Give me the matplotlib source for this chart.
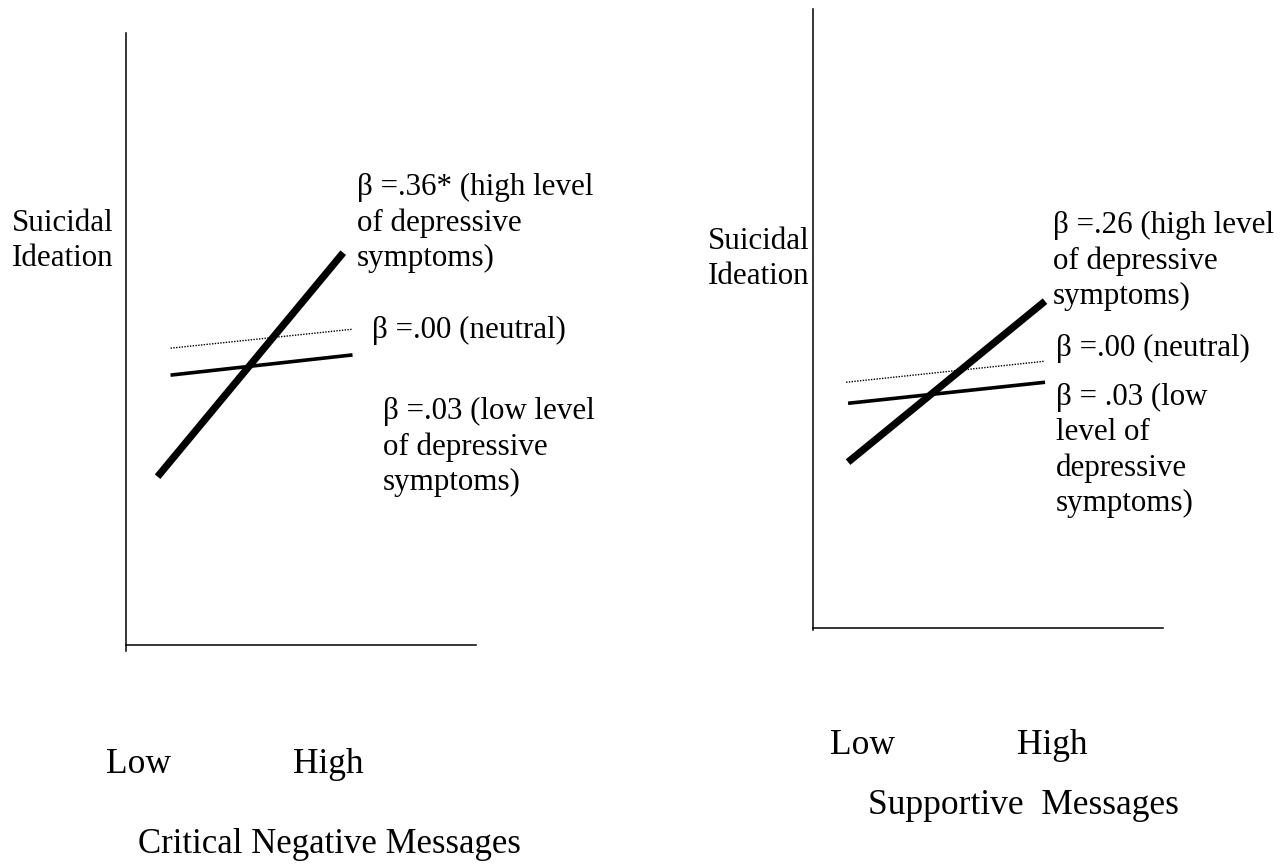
import matplotlib
matplotlib.use("Agg")
import matplotlib.pyplot as plt

W, H = 1285, 864

# x: 0 = Low, 1 = High ; y on an arbitrary 0-10 scale of suicidal ideation
left_x_high = [0.0, 1.0]
left_y_high = [2.75, 6.41]
left_x_low = [0.07, 1.05]
left_y_low = [4.41, 4.74]
left_x_neutral = [0.07, 1.05]
left_y_neutral = [4.85, 5.16]

right_x_high = [0.0, 1.0]
right_y_high = [2.68, 5.28]
right_x_low = [0.0, 1.0]
right_y_low = [3.63, 3.97]
right_x_neutral = [-0.01, 1.0]
right_y_neutral = [3.97, 4.31]

left_labels = ["\u03b2 =.36* (high level\nof depressive\nsymptoms)",
               "\u03b2 =.00 (neutral)",
               "\u03b2 =.03 (low level\nof depressive\nsymptoms)"]
right_labels = ["\u03b2 =.26 (high level\nof depressive\nsymptoms)",
                "\u03b2 =.00 (neutral)",
                "\u03b2 = .03 (low\nlevel of\ndepressive\nsymptoms)"]
tick_labels = ["Low", "High"]
x_titles = ["Critical Negative Messages", "Supportive  Messages"]
y_title = "Suicidal\nIdeation"

plt.rcParams["font.family"] = ["Liberation Serif", "DejaVu Serif"]

fig = plt.figure(figsize=(W / 100, H / 100), dpi=100)


def px_axes(x0, y_top, x1, y_bot):
    return fig.add_axes([x0 / W, 1 - y_bot / H, (x1 - x0) / W, (y_bot - y_top) / H])


def px_text(x, y, s, size=22.3, **kw):
    fig.text(x / W, 1 - y / H, s, fontsize=size, ha="left", va="top",
             linespacing=1.27, **kw)


def draw_panel(ax, xlim, xh, yh, xl, yl, xn, yn, y_overhang=0.0):
    ax.plot(xh, yh, color="black", lw=5.2, solid_capstyle="butt")
    ax.plot(xl, yl, color="black", lw=2.6, solid_capstyle="butt")
    ax.plot(xn, yn, color="black", lw=1.0, linestyle=(0, (1, 1)))
    ax.set_xlim(*xlim)
    ax.set_ylim(0, 10)
    for side in ("top", "right"):
        ax.spines[side].set_visible(False)
    for side in ("left", "bottom"):
        ax.spines[side].set_linewidth(1.1)
    # y axis pokes a little below the x axis, as in the original drawing
    ax.spines["left"].set_bounds(-y_overhang, 10)
    ax.set_xticks([])
    ax.set_yticks([])
    ax.patch.set_visible(False)


ax1 = px_axes(126, 33, 476, 645)
draw_panel(ax1, (-0.17, 1.715), left_x_high, left_y_high,
           left_x_low, left_y_low, left_x_neutral, left_y_neutral,
           y_overhang=0.1)

ax2 = px_axes(813, 9, 1163, 628)
draw_panel(ax2, (-0.178, 1.599), right_x_high, right_y_high,
           right_x_low, right_y_low, right_x_neutral, right_y_neutral,
           y_overhang=0.03)

# left panel texts
px_text(12, 209, y_title)
px_text(357, 173, left_labels[0])
px_text(372, 316, left_labels[1])
px_text(383, 397, left_labels[2])
px_text(106, 748, tick_labels[0], size=25.5)
px_text(293, 748, tick_labels[1], size=25.5)
px_text(138, 828, x_titles[0], size=25)

# right panel texts
px_text(708, 227, y_title)
px_text(1053, 211, right_labels[0])
px_text(1056, 334, right_labels[1])
px_text(1056, 383, right_labels[2])
px_text(830, 729, tick_labels[0], size=25.5)
px_text(1017, 729, tick_labels[1], size=25.5)
px_text(868, 789, x_titles[1], size=25.5)

fig.savefig("out.png", dpi=100)
